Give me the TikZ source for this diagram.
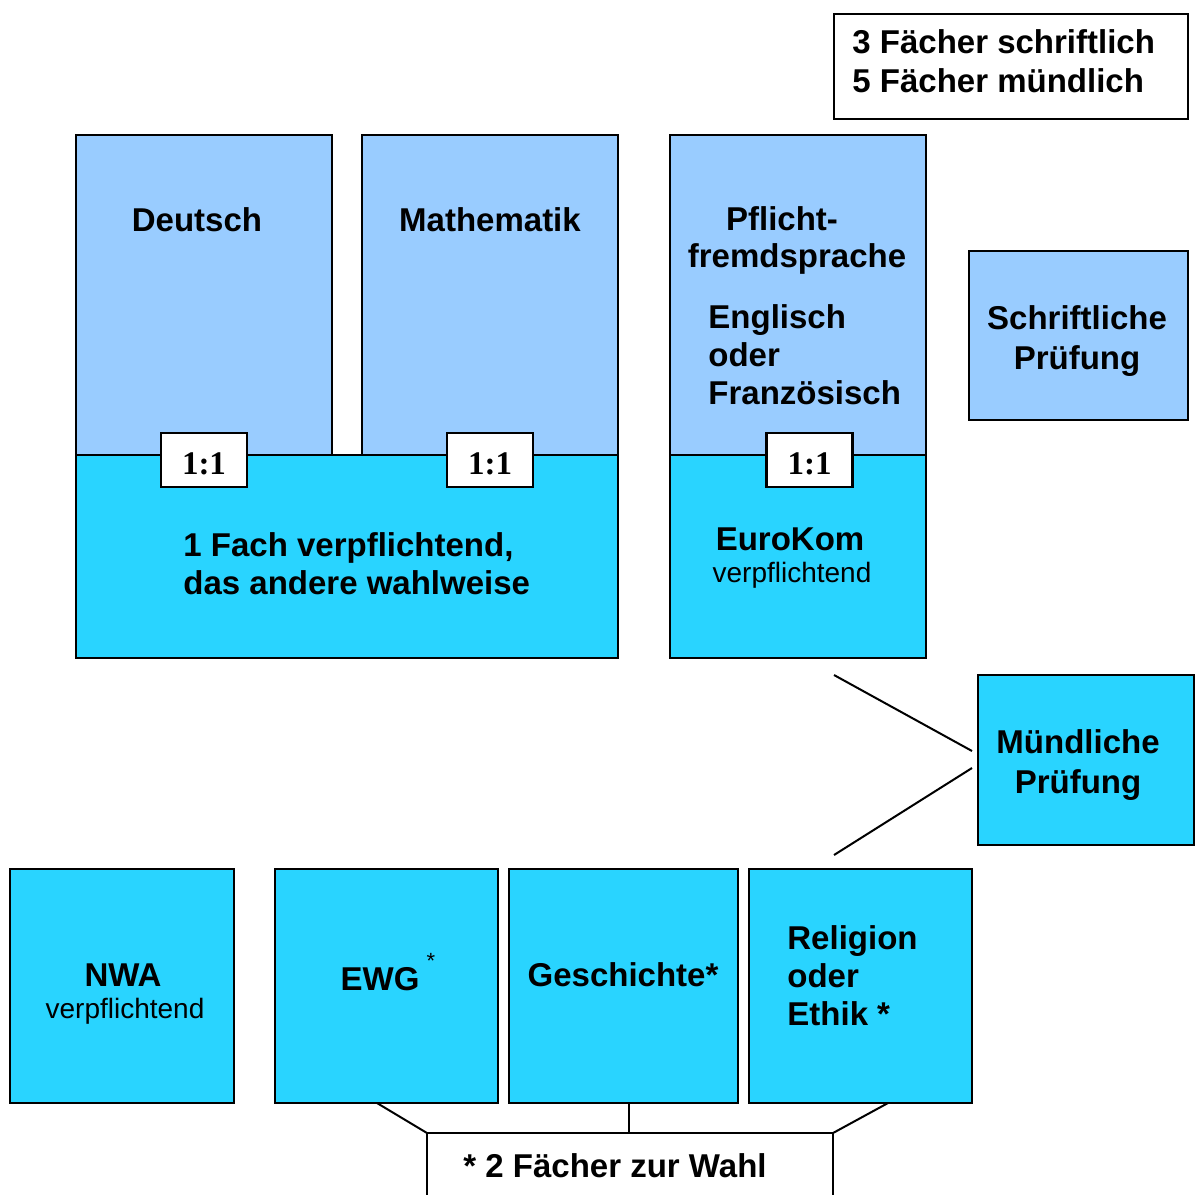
\documentclass[tikz,border=0pt]{standalone}
\usepackage{fontspec}
\setmainfont{Liberation Sans}
\newfontfamily\serifb{Liberation Serif}
\definecolor{lblue}{RGB}{153,204,255}
\definecolor{cyanb}{RGB}{41,212,255}
\begin{document}
\begin{tikzpicture}[x=0.5pt,y=-0.5pt,
  box/.style={draw=black, line width=1.2pt, anchor=north west, inner sep=0pt, outer sep=0pt},
  txt/.style={font=\fontsize{16.5}{19.5}\selectfont\bfseries, inner sep=0pt, align=center},
  ltxt/.style={font=\fontsize{16.5}{19}\selectfont\bfseries, inner sep=0pt, align=left, anchor=west},
  small/.style={font=\fontsize{14}{16}\selectfont, inner sep=0pt},
  ratio/.style={draw, fill=white, line width=1.2pt, font=\serifb\fontsize{16.5}{18}\selectfont\bfseries, minimum width=43pt, minimum height=27pt, inner sep=0pt, text height=14pt, text depth=0pt},
  conn/.style={line width=1pt}
]
\useasboundingbox (0,0) rectangle (1197,1194);

% top-right note
\node[box, fill=white, minimum width=177pt, minimum height=52.5pt] (note) at (834,14) {};
\node[ltxt, font=\fontsize{16.5}{19.5}\selectfont\bfseries] (notetxt) at (852,61.5) {3 Fächer schriftlich\\5 Fächer mündlich};

% written exam block
\node[box, fill=lblue, minimum width=128pt, minimum height=160pt] (deutsch) at (76,135) {};
\node[box, fill=lblue, minimum width=128pt, minimum height=160pt] (mathe) at (362,135) {};
\node[box, fill=cyanb, minimum width=271pt, minimum height=101.5pt] (fach) at (76,455) {};
\node[box, fill=lblue, minimum width=128pt, minimum height=160pt] (pflicht) at (670,135) {};
\node[box, fill=cyanb, minimum width=128pt, minimum height=101.5pt] (eurokom) at (670,455) {};

\node[ratio] (r1) at (204,460) {1:1};
\node[ratio] (r2) at (490,460) {1:1};
\node[ratio] (r3) at (809.5,460) {1:1};

\node[txt] (tdeutsch) at (197,220) {Deutsch};
\node[txt] (tmathe) at (490,220) {Mathematik};
\node[ltxt] (tfach) at (183,564) {1 Fach verpflichtend,\\das andere wahlweise};
\node[txt] (tpfl1) at (782,219) {Pflicht-};
\node[txt] (tpfl2) at (797,259) {fremdsprache};
\node[ltxt] (tengl) at (708,355) {Englisch\\oder\\Französisch};
\node[txt] (teuro) at (790,539) {EuroKom};
\node[small] (teuro2) at (792,575) {verpflichtend};

% legend boxes
\node[box, fill=lblue, minimum width=109.5pt, minimum height=84.5pt] (schrift) at (969,251) {};
\node[txt, font=\fontsize{16.5}{20}\selectfont\bfseries] (tschrift) at (1077,341) {Schriftliche\\Prüfung};
\node[box, fill=cyanb, minimum width=108pt, minimum height=85pt] (muend) at (978,675) {};
\node[txt, font=\fontsize{16.5}{20}\selectfont\bfseries] (tmuend) at (1078,765) {Mündliche\\Prüfung};

% connectors to oral exam
\coordinate (a1) at (834,675);
\coordinate (a2) at (972,751);
\coordinate (b1) at (972,768);
\coordinate (b2) at (834,855);
\draw[conn] (a1) -- (a2);
\draw[conn] (b1) -- (b2);

% oral exam subjects
\node[box, fill=cyanb, minimum width=112pt, minimum height=117pt] (nwa) at (10,869) {};
\node[box, fill=cyanb, minimum width=111.5pt, minimum height=117pt] (ewg) at (275,869) {};
\node[box, fill=cyanb, minimum width=114.5pt, minimum height=117pt] (gesch) at (509,869) {};
\node[box, fill=cyanb, minimum width=111.5pt, minimum height=117pt] (relig) at (749,869) {};

\node[txt] (tnwa) at (123,975) {NWA};
\node[small] (tnwa2) at (125,1011) {verpflichtend};
\node[txt] (tewg) at (380,979) {EWG};
\node[small, font=\fontsize{11}{12}\selectfont] (tewgstar) at (431,961) {*};
\node[txt] (tgesch) at (623,975) {Geschichte*};
\node[ltxt] (trelig) at (787,976) {Religion\\oder\\Ethik *};

% choice box
\coordinate (c1) at (377,1103);
\coordinate (c2) at (629,1103);
\coordinate (c3) at (888,1103);
\coordinate (w1) at (427,1133);
\coordinate (w2) at (629,1133);
\coordinate (w3) at (833,1133);
\draw[conn] (427,1196) -- (w1) -- (w3) -- (833,1196);
\draw[conn] (c1) -- (w1);
\draw[conn] (c2) -- (w2);
\draw[conn] (c3) -- (w3);
\node[txt] (twahl) at (615,1166) {* 2 Fächer zur Wahl};
\end{tikzpicture}
\end{document}
